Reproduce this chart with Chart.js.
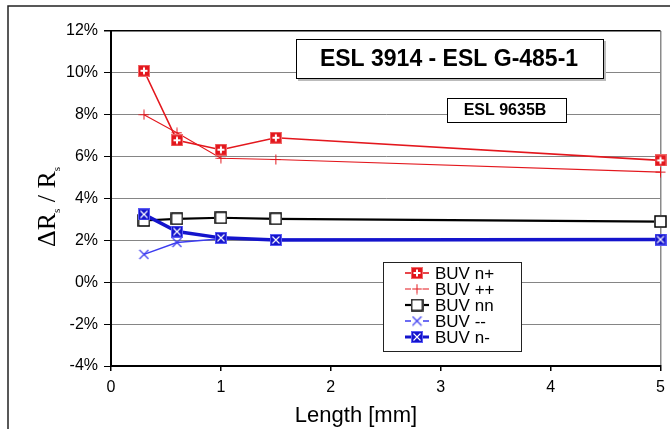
<!DOCTYPE html>
<html>
<head>
<meta charset="utf-8">
<script src="https://cdn.jsdelivr.net/npm/chart.js@4"></script>
<style>
html,body{margin:0;padding:0;background:#fff;}
#wrap{width:670px;height:429px;position:relative;}
</style>
</head>
<body>
<div id="wrap"><canvas id="c" width="670" height="429"></canvas></div>
<script>
// ---- data (values in %) ----
const lengths = [0.3, 0.6, 1.0, 1.5, 5.0];
const seriesNames = ['BUV n+', 'BUV ++', 'BUV nn', 'BUV --', 'BUV n-'];
const buvNPlus  = [10.1, 6.78, 6.33, 6.9, 5.82];
const buvPlusPlus = [8.0, 7.14, 5.92, 5.86, 5.26];
const buvNN     = [2.95, 3.03, 3.08, 3.03, 2.9];
const buvMinusMinus = [1.33, 1.9, 2.08, 2.05, 2.02];
const buvNMinus = [3.24, 2.42, 2.12, 2.02, 2.04];
const yTicks = [-4, -2, 0, 2, 4, 6, 8, 10, 12];
const xTicks = [0, 1, 2, 3, 4, 5];
const titleMain = 'ESL 3914 - ESL G-485-1';
const titleSub = 'ESL 9635B';

const RED = '#e3171d';
const BLUE = '#1414cc';
const BLUE2 = '#3c3cf0';

function mk(w, h, fn){ const c=document.createElement('canvas'); c.width=w; c.height=h; fn(c.getContext('2d')); return c; }
const ptNPlus = mk(12,12,g=>{ g.fillStyle=RED; g.fillRect(0,0,12,12); g.strokeStyle='#f06a6a'; g.lineWidth=1; g.strokeRect(0.5,0.5,11,11);
  g.strokeStyle='#fff'; g.lineWidth=2; g.beginPath(); g.moveTo(6,2.5); g.lineTo(6,9.5); g.moveTo(2.5,6); g.lineTo(9.5,6); g.stroke(); });
const ptPlusPlus = mk(11,11,g=>{ g.strokeStyle=RED; g.lineWidth=1; g.beginPath(); g.moveTo(5.5,0.5); g.lineTo(5.5,10.5); g.moveTo(0.5,5.5); g.lineTo(10.5,5.5); g.stroke(); });
const ptNN = mk(13,13,g=>{ g.fillStyle='#fff'; g.fillRect(0,0,13,13); g.strokeStyle='#000'; g.lineWidth=1.5; g.strokeRect(1,1,11,11); });
const ptMM = mk(11,11,g=>{ g.strokeStyle=BLUE2; g.lineWidth=1.2; g.beginPath(); g.moveTo(1,1); g.lineTo(10,10); g.moveTo(10,1); g.lineTo(1,10); g.stroke(); });
const ptNMinus = mk(12,12,g=>{ g.fillStyle=BLUE; g.fillRect(0,0,12,12); g.strokeStyle='#5a5af5'; g.lineWidth=1; g.strokeRect(0.5,0.5,11,11);
  g.strokeStyle='#fff'; g.lineWidth=1.1; g.beginPath(); g.moveTo(2.5,2.5); g.lineTo(9.5,9.5); g.moveTo(9.5,2.5); g.lineTo(2.5,9.5); g.stroke(); });

const styles = [
  {color:RED, width:1.6, pt:ptNPlus},
  {color:RED, width:1.1, pt:ptPlusPlus},
  {color:'#000', width:2.2, pt:ptNN},
  {color:BLUE2, width:1.5, pt:ptMM},
  {color:BLUE, width:3.5, pt:ptNMinus}
];
const values = [buvNPlus, buvPlusPlus, buvNN, buvMinusMinus, buvNMinus];

const datasets = values.map((vals,i)=>({
  label: seriesNames[i],
  data: lengths.map((x,j)=>({x:x, y:vals[j]})),
  borderColor: styles[i].color,
  backgroundColor: styles[i].color,
  borderWidth: styles[i].width,
  pointStyle: styles[i].pt,
  pointRadius: 6,
  tension: 0,
  clip: false,
  order: [1,2,3,4,0][i]
}));

const decor = {
  id:'decor',
  beforeDraw(chart){
    const g=chart.ctx; g.save();
    g.strokeStyle='#222'; g.lineWidth=1.5;
    g.beginPath(); g.moveTo(8,429); g.lineTo(8,6); g.lineTo(670,6); g.stroke();
    g.restore();
  },
  afterDraw(chart){
    const g=chart.ctx, ca=chart.chartArea; g.save();
    // y title with subscripts
    g.translate(47, 207); g.rotate(-Math.PI/2);
    g.fillStyle='#000'; g.textBaseline='alphabetic';
    const big='26px "Liberation Serif"', small='11px "Liberation Serif"';
    const parts=[['\u0394R',big,0],['s',small,5],[' / R',big,0],['s',small,5]];
    let tw=0; parts.forEach(p=>{g.font=p[1]; tw+=g.measureText(p[0]).width;});
    let x=-tw/2; parts.forEach(p=>{g.font=p[1]; g.fillText(p[0],x,8+p[2]); x+=g.measureText(p[0]).width;});
    g.setTransform(1,0,0,1,0,0);
    // x title
    g.font='22px "Liberation Sans"'; g.textAlign='center'; g.textBaseline='alphabetic';
    g.fillText('Length [mm]', 356, 422);
    // main title box
    g.fillStyle='#bbb'; g.fillRect(298,41,308,40);
    g.fillStyle='#fff'; g.fillRect(296,39,308,40);
    g.strokeStyle='#000'; g.lineWidth=1; g.strokeRect(296.5,39.5,307,39);
    g.fillStyle='#000'; g.font='bold 23px "Liberation Sans"'; g.textBaseline='middle';
    g.fillText(titleMain, 449, 60);
    // sub title box
    g.fillStyle='#fff'; g.fillRect(447,98,120,25);
    g.strokeRect(447.5,98.5,119,24);
    g.fillStyle='#000'; g.font='bold 16px "Liberation Sans"';
    g.fillText(titleSub, 505, 111);
    // legend
    g.fillStyle='#fff'; g.fillRect(383,262,139,90);
    g.strokeStyle='#222'; g.strokeRect(383.5,262.5,138,89);
    g.textAlign='left'; g.font='17px "Liberation Sans"';
    for(let i=0;i<5;i++){
      const y=273+i*16, s=styles[i];
      g.strokeStyle=s.color; g.lineWidth=Math.min(s.width,3);
      g.beginPath();
      if(i===1||i===3){ g.moveTo(405,y); g.lineTo(411,y); g.moveTo(423,y); g.lineTo(429,y); }
      else { g.moveTo(405,y); g.lineTo(429,y); }
      g.stroke();
      g.drawImage(s.pt, 417-s.pt.width/2, y-s.pt.height/2);
      g.fillStyle='#000'; g.textBaseline='middle';
      g.fillText(seriesNames[i], 435, y+1);
    }
    g.restore();
  }
};

new Chart(document.getElementById('c'), {
  type:'line',
  data:{datasets},
  plugins:[decor],
  options:{
    responsive:false, animation:false, devicePixelRatio:1,
    layout:{padding:{top:31,right:6,left:0,bottom:0}},
    plugins:{legend:{display:false}, tooltip:{enabled:false}},
    scales:{
      x:{
        type:'linear', min:0, max:5,
        afterBuildTicks(s){ s.ticks = xTicks.map(v=>({value:v})); },
        afterFit(s){ s.height = 63; s.paddingLeft = 0; s.paddingRight = 0; },
        grid:{ drawOnChartArea:true, color:c=>c.tick && c.tick.value===5 ? '#8a8a8a' : 'rgba(0,0,0,0)', tickColor:'#000', tickLength:5, lineWidth:1.5 },
        border:{ color:'#000', width:2 },
        ticks:{ color:'#000', font:{family:'Liberation Sans', size:16}, padding:7, callback:v=>String(v), maxRotation:0 }
      },
      y:{
        type:'linear', min:-4, max:12,
        afterBuildTicks(s){ s.ticks = yTicks.map(v=>({value:v})); },
        afterFit(s){ s.width = 111; s.paddingTop = 0; s.paddingBottom = 0; },
        grid:{ color:c=>c.tick && c.tick.value===12 ? '#000' : '#858585', tickColor:'#000', tickLength:7, lineWidth:c=>c.tick && c.tick.value===12 ? 1.5 : 1 },
        border:{ color:'#000', width:2 },
        ticks:{ color:'#000', font:{family:'Liberation Sans', size:16}, padding:6, callback:v=>v+'%' }
      }
    }
  }
});
</script>
</body>
</html>
